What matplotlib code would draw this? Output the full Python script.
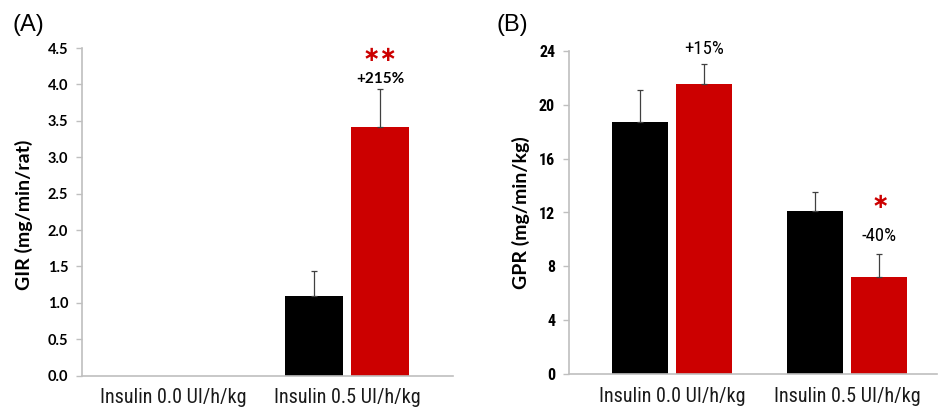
import numpy as np
import matplotlib
matplotlib.use("Agg")
import matplotlib.pyplot as plt
import matplotlib.font_manager as fm

# ---------------- data ----------------
categories = ["Insulin 0.0 UI/h/kg", "Insulin 0.5 UI/h/kg"]

gir_black = [np.nan, 1.09]
gir_black_err = [np.nan, 0.34]
gir_red = [np.nan, 3.41]
gir_red_err = [np.nan, 0.52]

gpr_black = [18.7, 12.1]
gpr_black_err = [2.4, 1.4]
gpr_red = [21.55, 7.25]
gpr_red_err = [1.45, 1.65]

gir_yticks = [0.0, 0.5, 1.0, 1.5, 2.0, 2.5, 3.0, 3.5, 4.0, 4.5]
gpr_yticks = [0, 4, 8, 12, 16, 20, 24]

# ---------------- fonts ----------------
names = {f.name for f in fm.fontManager.ttflist}


def find_narrow(bold):
    prefs = ["Liberation Sans Narrow", "Roboto Condensed", "Open Sans Condensed",
             "Noto Sans", "DejaVu Sans"]
    cands = []
    for f in fm.fontManager.ttflist:
        fn = f.fname.lower()
        if not ("narrow" in fn or "condensed" in fn) or "semicondensed" in fn \
                or "extracondensed" in fn or "italic" in fn or "oblique" in fn:
            continue
        isbold = "bold" in fn and "semibold" not in fn and "extrabold" not in fn
        if isbold != bold:
            continue
        if not bold and any(k in fn for k in ["light", "thin", "medium", "black", "semibold", "extrabold"]):
            continue
        rank = next((i for i, p in enumerate(prefs) if p.lower().replace(" ", "") in fn.replace("-", "").replace("_", "").replace(" ", "")), 99)
        if rank == 99:
            rank = next((i for i, p in enumerate(prefs) if f.name == p), 50)
        cands.append((rank, f.fname))
    cands.sort()
    return cands[0][1] if cands else None


nr = find_narrow(False)
nb = find_narrow(True)
if nr:
    NARROW = fm.FontProperties(fname=nr)
    NARROW_SCALE = 1.0
else:
    NARROW = fm.FontProperties(family="Liberation Sans")
    NARROW_SCALE = 0.86
if nb:
    NARROWB = fm.FontProperties(fname=nb)
else:
    NARROWB = fm.FontProperties(family="Liberation Sans", weight="bold")

BOLDF = "Lato" if "Lato" in names else "DejaVu Sans"
ARIAL = "Liberation Sans"

RED = "#CC0000"
BLACK = "#000000"
SPINE = "#BFBFBF"

W, H = 939, 411
fig = plt.figure(figsize=(W / 100, H / 100), dpi=100)


def fp(base, size):
    p = base.copy()
    p.set_size(size)
    return p


def px_axes(l, r, t, b):
    return [l / W, 1 - b / H, (r - l) / W, (b - t) / H]


def draw(ax, black, black_err, red, red_err, off, width, yticks, ylabels, ylim, xlim, ylabel, tickprop):
    x = np.arange(len(categories))
    for vals, errs, color, o in [(black, black_err, BLACK, -off), (red, red_err, RED, off)]:
        for xi, v, e in zip(x, vals, errs):
            if np.isnan(v):
                continue
            ax.bar(xi + o, v, width=width, color=color, zorder=2)
            ax.errorbar(xi + o, v, yerr=[[0], [e]], fmt="none", ecolor="#404040",
                        elinewidth=0.9, capsize=2.2, capthick=0.9, zorder=3)
    ax.set_xlim(*xlim)
    ax.set_ylim(*ylim)
    ax.set_xticks(x)
    ax.set_xticklabels(categories, fontproperties=fp(NARROW, 14.5 * NARROW_SCALE), color="#1a1a1a")
    ax.tick_params(axis="x", length=0, pad=9)
    ax.set_yticks(yticks)
    ax.set_yticklabels(ylabels, fontproperties=tickprop)
    ax.tick_params(axis="y", length=4, width=1, color=SPINE, pad=6)
    for s in ["top", "right"]:
        ax.spines[s].set_visible(False)
    for s in ["left", "bottom"]:
        ax.spines[s].set_color(SPINE)
        ax.spines[s].set_linewidth(1.2)
    ax.set_ylabel(ylabel, fontfamily=BOLDF, fontweight="bold", fontsize=14)
    ax.patch.set_alpha(0)


STAR = dict(ha="center", va="center", color=RED, fontfamily="DejaVu Sans",
            fontweight="bold", fontsize=15)

# Panel A
axA = fig.add_axes(px_axes(82, 453, 48, 375.6))
draw(axA, gir_black, gir_black_err, gir_red, gir_red_err, 0.19, 0.335,
     gir_yticks, [f"{t:.1f}" for t in gir_yticks], (0, 4.5), (-0.523, 1.609),
     "GIR (mg/min/rat)", fm.FontProperties(family=BOLDF, weight="bold", size=10.5))
axA.yaxis.set_label_coords(-0.132, 0.49)
axA.text(1 + 0.19, 4.08, "+215%", ha="center", va="center", fontfamily=BOLDF,
         fontweight="bold", fontsize=11)
axA.text(1 + 0.19, 4.41, "\u2217\u2217", **STAR)

# Panel B
axB = fig.add_axes(px_axes(569, 937, 50.7, 374.3))
draw(axB, gpr_black, gpr_black_err, gpr_red, gpr_red_err, 0.185, 0.32,
     gpr_yticks, [str(t) for t in gpr_yticks], (0, 24), (-0.589, 1.514),
     "GPR (mg/min/kg)", fp(NARROWB, 11.5 * NARROW_SCALE))
axB.yaxis.set_label_coords(-0.106, 0.5)
axB.text(0 + 0.185, 24.13, "+15%", ha="center", va="center",
         fontproperties=fp(NARROW, 13.5 * NARROW_SCALE))
axB.text(1 + 0.185, 10.26, "-40%", ha="center", va="center",
         fontproperties=fp(NARROW, 13.5 * NARROW_SCALE))
axB.text(1 + 0.19, 12.8, "\u2217", **STAR)

fig.text(13 / W, 1 - 25 / H, "(A)", ha="left", va="center", fontfamily=ARIAL, fontsize=17)
fig.text(497 / W, 1 - 25 / H, "(B)", ha="left", va="center", fontfamily=ARIAL, fontsize=17)

fig.savefig("out.png", dpi=100)
